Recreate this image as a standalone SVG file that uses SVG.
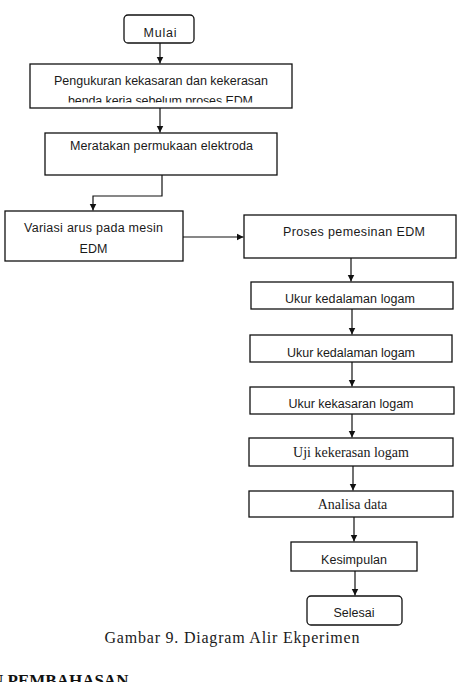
<svg xmlns="http://www.w3.org/2000/svg" width="467" height="682" viewBox="0 0 467 682">
<style>
.box{fill:#fff;stroke:#111;stroke-width:1.3}
.t{font-family:"Liberation Sans",Arial,sans-serif;font-size:12.5px;fill:#1a1a1a;text-anchor:middle}
.s{font-family:"Liberation Serif","Times New Roman",serif;font-size:14px;fill:#1a1a1a;text-anchor:middle}
.c{fill:none;stroke:#111;stroke-width:1.2}
</style>
<defs>
<marker id="ah" markerWidth="8" markerHeight="8" refX="7" refY="4" orient="auto" markerUnits="userSpaceOnUse">
<path d="M0,0.5 L7,4 L0,7.5 Z" fill="#111"/>
</marker>
<clipPath id="clip2"><rect x="30" y="64" width="262" height="38.5"/></clipPath>
</defs>
<rect width="467" height="682" fill="#fff"/>
<g id="connectors">
<path class="c" d="M160,43 V63.5" marker-end="url(#ah)"/>
<path class="c" d="M160,108 V132.5" marker-end="url(#ah)"/>
<path class="c" d="M162,175 V196 H93 V210.5" marker-end="url(#ah)"/>
<path class="c" d="M183,237 H243.5" marker-end="url(#ah)"/>
<path class="c" d="M351,258 V281.5" marker-end="url(#ah)"/>
<path class="c" d="M352,309 V334.5" marker-end="url(#ah)"/>
<path class="c" d="M352,362 V386.5" marker-end="url(#ah)"/>
<path class="c" d="M352,414 V437.5" marker-end="url(#ah)"/>
<path class="c" d="M353,466 V490.5" marker-end="url(#ah)"/>
<path class="c" d="M354,517 V541.5" marker-end="url(#ah)"/>
<path class="c" d="M355,571 V595.5" marker-end="url(#ah)"/>
</g>
<g id="mulai">
<rect class="box" x="124" y="15" width="70" height="28" rx="4"/>
<text class="t" x="160" y="36.5" textLength="33" lengthAdjust="spacing">Mulai</text>
</g>
<g id="pengukuran">
<rect class="box" x="30" y="64" width="262" height="44" stroke-width="1.8"/>
<text class="t" x="161" y="84.5" textLength="214" lengthAdjust="spacing">Pengukuran kekasaran dan kekerasan</text>
<text class="t" x="160.5" y="105" textLength="185" lengthAdjust="spacing" clip-path="url(#clip2)">benda kerja sebelum proses EDM</text>
</g>
<g id="meratakan">
<rect class="box" x="45" y="133" width="232" height="42"/>
<text class="t" x="161.5" y="149.5" textLength="183" lengthAdjust="spacing">Meratakan permukaan elektroda</text>
</g>
<g id="variasi">
<rect class="box" x="5" y="211" width="178" height="50"/>
<text class="t" x="93.5" y="231.5" textLength="139" lengthAdjust="spacing">Variasi arus pada mesin</text>
<text class="t" x="93.5" y="252.5">EDM</text>
</g>
<g id="proses">
<rect class="box" x="244" y="215" width="212" height="43"/>
<text class="t" x="354" y="235.5" textLength="142" lengthAdjust="spacing">Proses pemesinan EDM</text>
</g>
<g id="ukur1">
<rect class="box" x="251" y="282" width="202" height="27" stroke-width="1.6"/>
<text class="t" x="350" y="302.5" textLength="130" lengthAdjust="spacing">Ukur kedalaman logam</text>
</g>
<g id="ukur2">
<rect class="box" x="250" y="335" width="202" height="27" stroke-width="1.6"/>
<text class="t" x="351" y="356.5" textLength="128" lengthAdjust="spacing">Ukur kedalaman logam</text>
</g>
<g id="ukur3">
<rect class="box" x="250" y="387" width="204" height="27" stroke-width="1.6"/>
<text class="t" x="351" y="407.5" textLength="125" lengthAdjust="spacing">Ukur kekasaran logam</text>
</g>
<g id="uji">
<rect class="box" x="249" y="438" width="204" height="28"/>
<text class="s" x="351" y="456.5">Uji kekerasan logam</text>
</g>
<g id="analisa">
<rect class="box" x="249" y="491" width="204" height="26"/>
<text class="s" x="352.5" y="508.5">Analisa data</text>
</g>
<g id="kesimpulan">
<rect class="box" x="291" y="542" width="126" height="29"/>
<text class="t" x="354" y="563.5" textLength="66" lengthAdjust="spacing">Kesimpulan</text>
</g>
<g id="selesai">
<rect class="box" x="307" y="596" width="95" height="29" rx="4"/>
<text class="t" x="354" y="617">Selesai</text>
</g>
<text x="232" y="643" font-family="'Liberation Serif','Times New Roman',serif" font-size="16" fill="#1a1a1a" text-anchor="middle" textLength="255" lengthAdjust="spacing">Gambar 9. Diagram Alir Ekperimen</text>
<text x="-9" y="686" font-family="'Liberation Serif','Times New Roman',serif" font-size="17" font-weight="bold" fill="#111">N PEMBAHASAN</text>
</svg>
